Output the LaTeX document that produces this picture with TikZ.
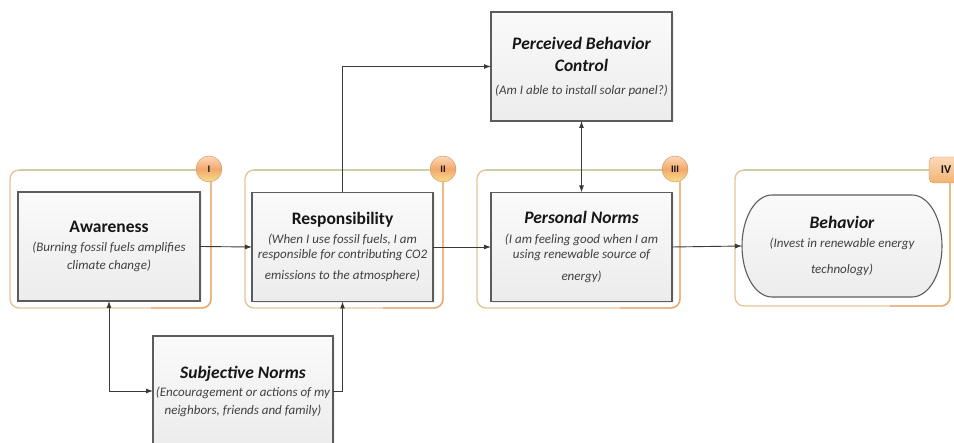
\documentclass[tikz,border=0pt]{standalone}
\usepackage{fontspec}
\setmainfont{Carlito}
\usetikzlibrary{arrows.meta,shadows}

\definecolor{frametan}{RGB}{228,198,152}
\definecolor{frameolive}{RGB}{208,204,164}
\definecolor{frameorange}{RGB}{236,168,108}
\definecolor{boxline}{RGB}{92,92,92}
\definecolor{boxtop}{RGB}{250,250,250}
\definecolor{boxbot}{RGB}{236,236,236}
\definecolor{subtext}{RGB}{64,64,64}
\definecolor{titletext}{RGB}{22,22,22}
\definecolor{badgetop}{RGB}{252,218,186}
\definecolor{badgemid}{RGB}{242,168,108}
\definecolor{badgebot}{RGB}{246,222,140}
\definecolor{linkgray}{RGB}{58,58,58}

\newcommand{\ttlfont}{\fontsize{17.5}{20}\selectfont\bfseries\color{titletext}}
\newcommand{\subtxtfont}{\fontsize{13}{15}\selectfont\itshape\color{subtext}}

\begin{document}
\begin{tikzpicture}[x=1pt,y=-1pt,
  frame/.style={draw=frametan, line width=1.4pt, rounded corners=9pt, fill=white,
    outer sep=0pt, minimum width=#1, minimum height=138pt},
  frameedge/.style={draw=frameorange, line width=1.4pt},
  frametop/.style={draw=frameolive, line width=1.4pt},
  stagebox/.style={draw=boxline, line width=1.1pt, top color=boxtop, bottom color=boxbot,
    outer sep=0pt, inner sep=0pt, minimum width=#1, minimum height=109pt,
    align=center, font=\subtxtfont,
    drop shadow={opacity=0.12, shadow xshift=1.5pt, shadow yshift=-1.5pt}},
  badge/.style={circle, minimum size=26pt, inner sep=0pt, draw=badgemid!85!black, line width=0.4pt,
    top color=badgetop, bottom color=badgebot, middle color=badgemid,
    font=\fontsize{10}{12}\selectfont\bfseries\color{titletext}},
  badgebox/.style={rectangle, rounded corners=5pt, minimum width=34pt, minimum height=26pt, inner sep=0pt,
    draw=badgemid!85!black, line width=0.4pt,
    top color=badgetop, bottom color=badgemid!80!badgebot,
    font=\fontsize{12}{14}\selectfont\bfseries\color{titletext}},
  link/.style={draw=linkgray, line width=0.9pt, -{Latex[length=7pt,width=5pt]}},
  twolink/.style={draw=linkgray, line width=0.9pt, {Latex[length=7pt,width=5pt]}-{Latex[length=7pt,width=5pt]}}
]
\useasboundingbox (0,0) rectangle (954,443);

% stage frames
\node[frame=201pt] (g1) at (110.5,239) {};
\node[frame=198pt] (g2) at (344,239) {};
\node[frame=203pt] (g3) at (578.5,239) {};
\node[frame=215pt, minimum height=136pt] (g4) at (842.5,238) {};
\foreach \g in {g1,g2,g3,g4}{
  \draw[frametop] ([xshift=9pt]\g.north west) -- ([xshift=-14pt]\g.north east);
  \draw[frameedge, rounded corners=9pt] ([yshift=-12pt]\g.north east) -- (\g.south east) -- ([xshift=-60pt]\g.south east);
}

% stage badges
\node[badge] (b1) at (209,169) {I};
\node[badge] (b2) at (443,169) {II};
\node[badge] (b3) at (675,169) {III};
\node[badgebox] (b4) at (946,170) {IV};

% construct boxes
\node[stagebox=182pt] (aw) at (109,246.5)
  {{\ttlfont\upshape Awareness}\\[4pt] (Burning fossil fuels amplifies\\[3pt] climate change)};
\node[stagebox=181pt] (resp) at (342.5,247)
  {{\ttlfont\upshape Responsibility}\\[4pt] (When I use fossil fuels, I am\\ responsible for contributing CO2\\[6pt] emissions to the atmosphere)};
\node[stagebox=181pt] (pn) at (581.5,247)
  {{\ttlfont Personal Norms}\\[5pt] (I am feeling good when I am\\ using renewable source of\\[7pt] energy)};
\node[stagebox=181pt] (pbc) at (581.5,66.5)
  {{\ttlfont Perceived Behavior}\\[7pt] {\ttlfont Control}\\[8pt] (Am I able to install solar panel?)};
\node[stagebox=180pt, minimum height=110pt] (sn) at (243,391)
  {{\ttlfont Subjective Norms}\\[3pt] (Encouragement or actions of my\\[3pt] neighbors, friends and family)};

% behaviour outcome: a box with elliptical ends
\node[minimum width=200pt, minimum height=102pt, inner sep=0pt, outer sep=0pt] (beh) at (842,246) {};
\path[draw=boxline, line width=1.1pt, top color=boxtop, bottom color=boxbot]
  ([xshift=30pt]beh.north west) -- ([xshift=-30pt]beh.north east)
  arc[start angle=-90, end angle=90, x radius=30, y radius=51]
  -- ([xshift=30pt]beh.south west)
  arc[start angle=90, end angle=270, x radius=30, y radius=51] -- cycle;
\node[align=center, font=\subtxtfont] (behtext) at (beh.center)
  {{\ttlfont Behavior}\\[4pt] (Invest in renewable energy\\[11pt] technology)};

% connectors
\draw[link] (aw.east) -- (resp.west);
\draw[link] (resp.east) -- (pn.west);
\draw[link] (pn.east) -- (beh.west);
\draw[link] (resp.north) |- (pbc.west);
\draw[twolink] (pbc.south) -- (pn.north);
\draw[twolink] (aw.south) |- (sn.west);
\draw[link] (sn.east) -| (resp.south);
\end{tikzpicture}
\end{document}
